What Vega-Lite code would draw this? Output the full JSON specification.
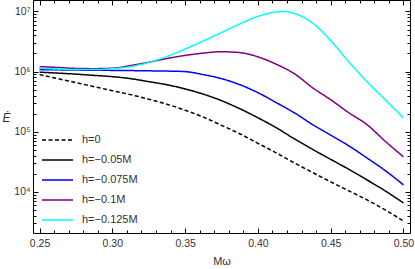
{
"$schema": "https://vega.github.io/schema/vega-lite/v6.json",
"width": 377, "height": 233,
"autosize": {"type": "none"},
"padding": {"left": 33, "top": 0, "right": 5, "bottom": 36},
"background": "white",
"config": {
  "view": {"stroke": "black", "strokeWidth": 1},
  "axis": {"labelFont": "Liberation Sans, DejaVu Sans", "titleFont": "Liberation Sans, DejaVu Sans", "labelColor": "#333", "titleColor": "#333", "labelFontSize": 10.5, "titleFontSize": 11, "titleFontWeight": "normal", "grid": false, "domain": false, "labelOverlap": false, "labelFlush": false},
  "legend": {"labelFont": "Liberation Sans, DejaVu Sans", "labelColor": "#333", "labelFontSize": 11}
},
"datasets": {"ticks": [{"x": 0.3, "v": 100000}]},
"data": {"values": [
{"x":0.25,"s":"h=0","v":891000},{"x":0.2625,"s":"h=0","v":764000},{"x":0.275,"s":"h=0","v":656000},{"x":0.2875,"s":"h=0","v":562000},{"x":0.3,"s":"h=0","v":482000},{"x":0.3125,"s":"h=0","v":414000},{"x":0.325,"s":"h=0","v":348000},{"x":0.3375,"s":"h=0","v":287000},{"x":0.35,"s":"h=0","v":228000},{"x":0.3625,"s":"h=0","v":175000},{"x":0.375,"s":"h=0","v":128000},{"x":0.3875,"s":"h=0","v":92700},{"x":0.4,"s":"h=0","v":64300},{"x":0.4125,"s":"h=0","v":44700},{"x":0.425,"s":"h=0","v":30400},{"x":0.4375,"s":"h=0","v":21100},{"x":0.45,"s":"h=0","v":14700},{"x":0.4625,"s":"h=0","v":10400},{"x":0.475,"s":"h=0","v":7360},{"x":0.4875,"s":"h=0","v":5010},{"x":0.5,"s":"h=0","v":3290},
{"x":0.25,"s":"h=−0.05M","v":981000},{"x":0.2625,"s":"h=−0.05M","v":944000},{"x":0.275,"s":"h=−0.05M","v":908000},{"x":0.2875,"s":"h=−0.05M","v":865000},{"x":0.3,"s":"h=−0.05M","v":825000},{"x":0.3125,"s":"h=−0.05M","v":764000},{"x":0.325,"s":"h=−0.05M","v":681000},{"x":0.3375,"s":"h=−0.05M","v":605000},{"x":0.35,"s":"h=−0.05M","v":515000},{"x":0.3625,"s":"h=−0.05M","v":422000},{"x":0.375,"s":"h=−0.05M","v":329000},{"x":0.3875,"s":"h=−0.05M","v":242000},{"x":0.4,"s":"h=−0.05M","v":171000},{"x":0.4125,"s":"h=−0.05M","v":117000},{"x":0.425,"s":"h=−0.05M","v":76400},{"x":0.4375,"s":"h=−0.05M","v":51100},{"x":0.45,"s":"h=−0.05M","v":34800},{"x":0.4625,"s":"h=−0.05M","v":23700},{"x":0.475,"s":"h=−0.05M","v":15800},{"x":0.4875,"s":"h=−0.05M","v":10400},{"x":0.5,"s":"h=−0.05M","v":6560},
{"x":0.25,"s":"h=−0.075M","v":1080000},{"x":0.2625,"s":"h=−0.075M","v":1070000},{"x":0.275,"s":"h=−0.075M","v":1060000},{"x":0.2875,"s":"h=−0.075M","v":1055000},{"x":0.3,"s":"h=−0.075M","v":1047000},{"x":0.3125,"s":"h=−0.075M","v":1040000},{"x":0.325,"s":"h=−0.075M","v":1030000},{"x":0.3375,"s":"h=−0.075M","v":1020000},{"x":0.35,"s":"h=−0.075M","v":1000000},{"x":0.3625,"s":"h=−0.075M","v":891000},{"x":0.375,"s":"h=−0.075M","v":764000},{"x":0.3875,"s":"h=−0.075M","v":607000},{"x":0.4,"s":"h=−0.075M","v":447000},{"x":0.4125,"s":"h=−0.075M","v":306000},{"x":0.425,"s":"h=−0.075M","v":207000},{"x":0.4375,"s":"h=−0.075M","v":132000},{"x":0.45,"s":"h=−0.075M","v":88100},{"x":0.4625,"s":"h=−0.075M","v":58200},{"x":0.475,"s":"h=−0.075M","v":36600},{"x":0.4875,"s":"h=−0.075M","v":22600},{"x":0.5,"s":"h=−0.075M","v":13100},
{"x":0.25,"s":"h=−0.1M","v":1210000},{"x":0.2625,"s":"h=−0.1M","v":1170000},{"x":0.275,"s":"h=−0.1M","v":1130000},{"x":0.2875,"s":"h=−0.1M","v":1120000},{"x":0.3,"s":"h=−0.1M","v":1140000},{"x":0.3125,"s":"h=−0.1M","v":1260000},{"x":0.325,"s":"h=−0.1M","v":1430000},{"x":0.3375,"s":"h=−0.1M","v":1650000},{"x":0.35,"s":"h=−0.1M","v":1860000},{"x":0.3625,"s":"h=−0.1M","v":2030000},{"x":0.375,"s":"h=−0.1M","v":2140000},{"x":0.3875,"s":"h=−0.1M","v":2070000},{"x":0.4,"s":"h=−0.1M","v":1760000},{"x":0.4125,"s":"h=−0.1M","v":1330000},{"x":0.425,"s":"h=−0.1M","v":926000},{"x":0.4375,"s":"h=−0.1M","v":541000},{"x":0.45,"s":"h=−0.1M","v":341000},{"x":0.4625,"s":"h=−0.1M","v":207000},{"x":0.475,"s":"h=−0.1M","v":131000},{"x":0.4875,"s":"h=−0.1M","v":69500},{"x":0.5,"s":"h=−0.1M","v":38300},
{"x":0.25,"s":"h=−0.125M","v":1140000},{"x":0.2625,"s":"h=−0.125M","v":1100000},{"x":0.275,"s":"h=−0.125M","v":1080000},{"x":0.2875,"s":"h=−0.125M","v":1080000},{"x":0.3,"s":"h=−0.125M","v":1120000},{"x":0.3125,"s":"h=−0.125M","v":1210000},{"x":0.325,"s":"h=−0.125M","v":1420000},{"x":0.3375,"s":"h=−0.125M","v":1780000},{"x":0.35,"s":"h=−0.125M","v":2370000},{"x":0.3625,"s":"h=−0.125M","v":3220000},{"x":0.375,"s":"h=−0.125M","v":4470000},{"x":0.3875,"s":"h=−0.125M","v":6190000},{"x":0.4,"s":"h=−0.125M","v":8250000},{"x":0.4125,"s":"h=−0.125M","v":9810000},{"x":0.4175,"s":"h=−0.125M","v":10000000},{"x":0.425,"s":"h=−0.125M","v":9260000},{"x":0.4375,"s":"h=−0.125M","v":6430000},{"x":0.45,"s":"h=−0.125M","v":3290000},{"x":0.4625,"s":"h=−0.125M","v":1450000},{"x":0.475,"s":"h=−0.125M","v":681000},{"x":0.4875,"s":"h=−0.125M","v":341000},{"x":0.5,"s":"h=−0.125M","v":171000}
]},
"layer": [
  {
    "mark": {"type": "line", "strokeWidth": 1.5, "clip": true, "interpolate": "monotone"},
    "encoding": {
      "x": {"field": "x", "type": "quantitative",
        "scale": {"domain": [0.2455, 0.5045], "nice": false, "zero": false},
        "axis": {"orient": "bottom", "offset": -5, "tickSize": 5, "tickColor": "black", "tickWidth": 1,
          "values": [0.25,0.3,0.35,0.4,0.45,0.5], "format": ".2f",
          "labelPadding": 5,
          "title": "Mω", "titleY": 33, "titleBaseline": "middle"}},
      "y": {"field": "v", "type": "quantitative",
        "scale": {"type": "log", "domain": [2075, 15500000], "nice": false},
        "axis": {"orient": "left", "offset": -5, "tickSize": 5, "tickColor": "black", "tickWidth": 1,
          "values": [10000,100000,1000000,10000000],
          "labelExpr": "datum.value==1e4?'10⁴':datum.value==1e5?'10⁵':datum.value==1e6?'10⁶':'10⁷'",
          "labelPadding": 3,
          "title": "Ė", "titleAngle": 0, "titleX": -32, "titleY": 117, "titleAlign": "center", "titleBaseline": "middle", "titleFontStyle": "italic", "titleFontSize": 12}},
      "color": {"field": "s", "type": "nominal",
        "scale": {"domain": ["h=0","h=−0.05M","h=−0.075M","h=−0.1M","h=−0.125M"], "range": ["#000000","#000000","#0000ff","#800080","#00ffff"]},
        "legend": {"title": null, "orient": "none", "legendX": 8, "legendY": 134, "symbolType": "stroke", "symbolSize": 961, "symbolStrokeWidth": 1.5, "clipHeight": 12, "rowPadding": 8, "labelOffset": 8, "padding": 0}},
      "strokeDash": {"field": "s", "type": "nominal",
        "scale": {"domain": ["h=0","h=−0.05M","h=−0.075M","h=−0.1M","h=−0.125M"], "range": [[4,2.5],[1,0],[1,0],[1,0],[1,0]]},
        "legend": {"title": null, "orient": "none", "legendX": 8, "legendY": 134, "symbolType": "stroke", "symbolSize": 961, "symbolStrokeWidth": 1.5, "clipHeight": 12, "rowPadding": 8, "labelOffset": 8, "padding": 0}}
    }
  },
  {
    "data": {"name": "ticks"},
    "mark": {"type": "point", "opacity": 0},
    "encoding": {
      "x": {"field": "x", "type": "quantitative",
        "scale": {"domain": [0.2455, 0.5045], "nice": false, "zero": false},
        "axis": {"orient": "bottom", "offset": -3, "tickSize": 3, "tickColor": "black", "tickWidth": 1, "labels": false, "title": null,
          "values": [0.26,0.27,0.28,0.29,0.31,0.32,0.33,0.34,0.36,0.37,0.38,0.39,0.41,0.42,0.43,0.44,0.46,0.47,0.48,0.49]}},
      "y": {"field": "v", "type": "quantitative",
        "scale": {"type": "log", "domain": [2075, 15500000], "nice": false},
        "axis": {"orient": "left", "offset": -3, "tickSize": 3, "tickColor": "black", "tickWidth": 1, "labels": false, "title": null,
          "values": [3000,4000,5000,6000,7000,8000,9000,20000,30000,40000,50000,60000,70000,80000,90000,200000,300000,400000,500000,600000,700000,800000,900000,2000000,3000000,4000000,5000000,6000000,7000000,8000000,9000000]}}
    }
  },
  {
    "data": {"name": "ticks"},
    "mark": {"type": "point", "opacity": 0},
    "encoding": {
      "x": {"field": "x", "type": "quantitative",
        "scale": {"domain": [0.2455, 0.5045], "nice": false, "zero": false},
        "axis": {"orient": "top", "offset": -5, "tickSize": 5, "tickColor": "black", "tickWidth": 1, "labels": false, "title": null,
          "values": [0.25,0.3,0.35,0.4,0.45,0.5]}},
      "y": {"field": "v", "type": "quantitative",
        "scale": {"type": "log", "domain": [2075, 15500000], "nice": false},
        "axis": {"orient": "right", "offset": -5, "tickSize": 5, "tickColor": "black", "tickWidth": 1, "labels": false, "title": null,
          "values": [10000,100000,1000000,10000000]}}
    }
  },
  {
    "data": {"name": "ticks"},
    "mark": {"type": "point", "opacity": 0},
    "encoding": {
      "x": {"field": "x", "type": "quantitative",
        "scale": {"domain": [0.2455, 0.5045], "nice": false, "zero": false},
        "axis": {"orient": "top", "offset": -3, "tickSize": 3, "tickColor": "black", "tickWidth": 1, "labels": false, "title": null,
          "values": [0.26,0.27,0.28,0.29,0.31,0.32,0.33,0.34,0.36,0.37,0.38,0.39,0.41,0.42,0.43,0.44,0.46,0.47,0.48,0.49]}},
      "y": {"field": "v", "type": "quantitative",
        "scale": {"type": "log", "domain": [2075, 15500000], "nice": false},
        "axis": {"orient": "right", "offset": -3, "tickSize": 3, "tickColor": "black", "tickWidth": 1, "labels": false, "title": null,
          "values": [3000,4000,5000,6000,7000,8000,9000,20000,30000,40000,50000,60000,70000,80000,90000,200000,300000,400000,500000,600000,700000,800000,900000,2000000,3000000,4000000,5000000,6000000,7000000,8000000,9000000]}}
    }
  }
],
"resolve": {"axis": {"x": "independent", "y": "independent"}}
}
